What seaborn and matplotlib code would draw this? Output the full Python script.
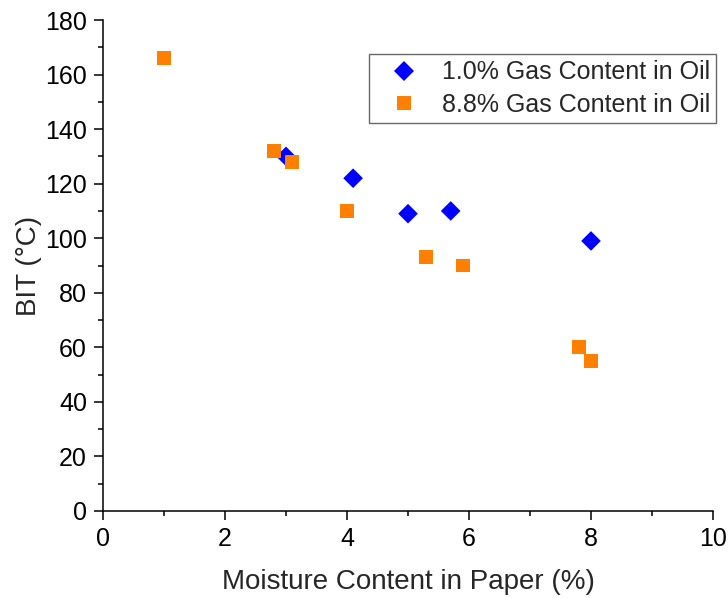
import matplotlib
matplotlib.use("Agg")
import matplotlib.pyplot as plt
from matplotlib.ticker import MultipleLocator
import pandas as pd
import seaborn as sns

# Breakdown inception temperature vs. paper moisture, two gas levels
series_low = "1.0% Gas Content in Oil"
series_high = "8.8% Gas Content in Oil"

moisture_low = [3.0, 4.1, 5.0, 5.7, 8.0]
bit_low = [130, 122, 109, 110, 99]

moisture_high = [1.0, 2.8, 3.1, 4.0, 5.3, 5.9, 7.8, 8.0]
bit_high = [166, 132, 128, 110, 93, 90, 60, 55]

df = pd.DataFrame({
    "moisture": moisture_low + moisture_high,
    "bit": bit_low + bit_high,
    "series": [series_low] * len(moisture_low) + [series_high] * len(moisture_high),
})

sns.set_style("ticks")
plt.rcParams["font.family"] = ["Liberation Sans", "DejaVu Sans"]

fig = plt.figure(figsize=(7.28, 5.98), dpi=100)
ax = fig.add_axes([103 / 728, 1 - 511 / 598, 610 / 728, 491 / 598])

sns.scatterplot(
    data=df, x="moisture", y="bit", hue="series", style="series",
    hue_order=[series_low, series_high],
    palette={series_low: "#0000FF", series_high: "#FF7F00"},
    markers={series_low: "D", series_high: "s"},
    s=100, linewidth=0, ax=ax, zorder=3,
)

ax.set_xlim(0, 10)
ax.set_ylim(0, 180)
ax.xaxis.set_major_locator(MultipleLocator(2))
ax.xaxis.set_minor_locator(MultipleLocator(1))
ax.yaxis.set_major_locator(MultipleLocator(20))
ax.yaxis.set_minor_locator(MultipleLocator(10))

for side in ("top", "right"):
    ax.spines[side].set_visible(False)
for side in ("left", "bottom"):
    ax.spines[side].set_linewidth(1.1)
    ax.spines[side].set_color("black")

ax.tick_params(which="major", length=6.5, width=1.1, labelsize=18, color="black", labelcolor="black", pad=5)
ax.tick_params(which="minor", length=3.5, width=1.1, color="black")

ax.set_xlabel("Moisture Content in Paper (%)", fontsize=20, labelpad=13)
ax.set_ylabel("BIT (°C)", fontsize=20, labelpad=2)

leg = ax.legend(
    loc="upper right", bbox_to_anchor=(716 / 728, 1 - 54 / 598),
    bbox_transform=fig.transFigure, fontsize=18, frameon=True, fancybox=False,
    borderaxespad=0, handlelength=2.3, handletextpad=0.35, borderpad=0.25,
    labelspacing=0.35, markerscale=1.0,
)
leg.get_frame().set_edgecolor("#444444")
leg.get_frame().set_linewidth(1.0)

fig.savefig("out.png", dpi=100)
